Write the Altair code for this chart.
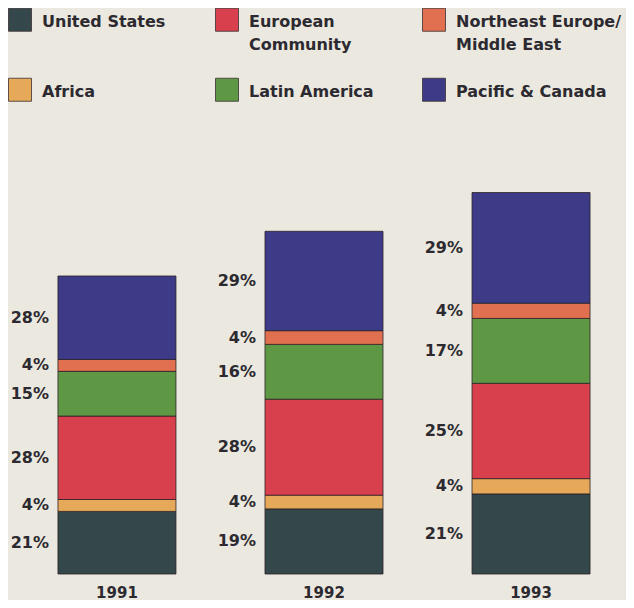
import altair as alt
import pandas as pd

# ---- data ----
years = ["1991", "1992", "1993"]
# stack order, bottom to top
regions = [
    "United States",
    "Africa",
    "European Community",
    "Latin America",
    "Northeast Europe/Middle East",
    "Pacific & Canada",
]
pct_1991 = [21, 4, 28, 15, 4, 28]
pct_1992 = [19, 4, 28, 16, 4, 29]
pct_1993 = [21, 4, 25, 17, 4, 29]
# relative total height of each bar (1991 = 100)
bar_totals = [100, 115, 128]

legend_order = [
    "United States",
    "European Community",
    "Northeast Europe/Middle East",
    "Africa",
    "Latin America",
    "Pacific & Canada",
]
legend_colors = ["#34474b", "#d9404e", "#e0704f", "#e6a95a", "#5f9845", "#3d3a87"]

FONT = "DejaVu Sans"
TEXT = "#2c2a30"
BG = "#ebe8df"

rows = []
for yr, tot, pcts in zip(years, bar_totals, [pct_1991, pct_1992, pct_1993]):
    for i, (reg, p) in enumerate(zip(regions, pcts)):
        rows.append({"year": yr, "region": reg, "order": i, "pct": p, "total": tot})
df = pd.DataFrame(rows)

base = (
    alt.Chart(df)
    .transform_calculate(value="datum.pct * datum.total / 100")
    .transform_window(
        cum="sum(value)", groupby=["year"], sort=[alt.SortField("order")], frame=[None, 0]
    )
    .transform_calculate(
        start="datum.cum - datum.value",
        mid="datum.cum - datum.value / 2",
        label="datum.pct + '%'",
    )
)

xscale = alt.Scale(paddingInner=0.43, paddingOuter=0.193, align=0.55)
yscale = alt.Scale(domain=[0, 151], nice=False, zero=True)

label_expr = (
    "datum.label == 'European Community' ? ['European', 'Community'] : "
    "datum.label == 'Northeast Europe/Middle East' ? ['Northeast Europe/', 'Middle East'] : "
    "[datum.label, '']"
)

bars = base.mark_bar(stroke="#2a2226", strokeWidth=0.8).encode(
    x=alt.X(
        "year:N",
        scale=xscale,
        title=None,
        axis=alt.Axis(
            domain=False,
            ticks=False,
            grid=False,
            labelAngle=0,
            labelFont=FONT,
            labelFontSize=15,
            labelFontWeight="bold",
            labelColor=TEXT,
            labelPadding=11,
        ),
    ),
    y=alt.Y("start:Q", scale=yscale, axis=None),
    y2="cum:Q",
    color=alt.Color(
        "region:N",
        scale=alt.Scale(domain=legend_order, range=legend_colors),
        legend=alt.Legend(
            title=None,
            orient="none",
            direction="horizontal",
            legendX=-6,
            legendY=-122,
            columns=3,
            symbolType="M-1,-0.5H1V1.5H-1Z",
            symbolSize=529,
            symbolStrokeColor="#3a3034",
            symbolStrokeWidth=0.8,
            symbolOpacity=1,
            labelFont=FONT,
            labelFontSize=16,
            labelFontWeight="bold",
            labelColor=TEXT,
            labelBaseline="top",
            labelOffset=10,
            labelLimit=300,
            columnPadding=5,
            rowPadding=19,
            gridAlign="all",
            labelExpr=label_expr,
        ),
    ),
    order=alt.Order("order:Q"),
)

labels = base.mark_text(
    align="right", baseline="middle", dx=-9, font=FONT, fontSize=16, fontWeight="bold", color=TEXT
).encode(
    x=alt.X("year:N", scale=xscale, bandPosition=0),
    y=alt.Y("mid:Q", scale=yscale),
    text="label:N",
)

chart = (
    alt.layer(bars, labels)
    .properties(
        width=612,
        height=450,
        background=BG,
        padding={"left": 6, "top": 116, "right": 0, "bottom": 26},
        autosize=alt.AutoSizeParams(type="none"),
    )
    .configure(
        view=alt.ViewConfig(stroke="transparent", strokeWidth=0),
        style={"guide-label": {"lineHeight": 23}},
    )
)

chart.save("out.html", embed_options={"renderer": "svg", "actions": False})
